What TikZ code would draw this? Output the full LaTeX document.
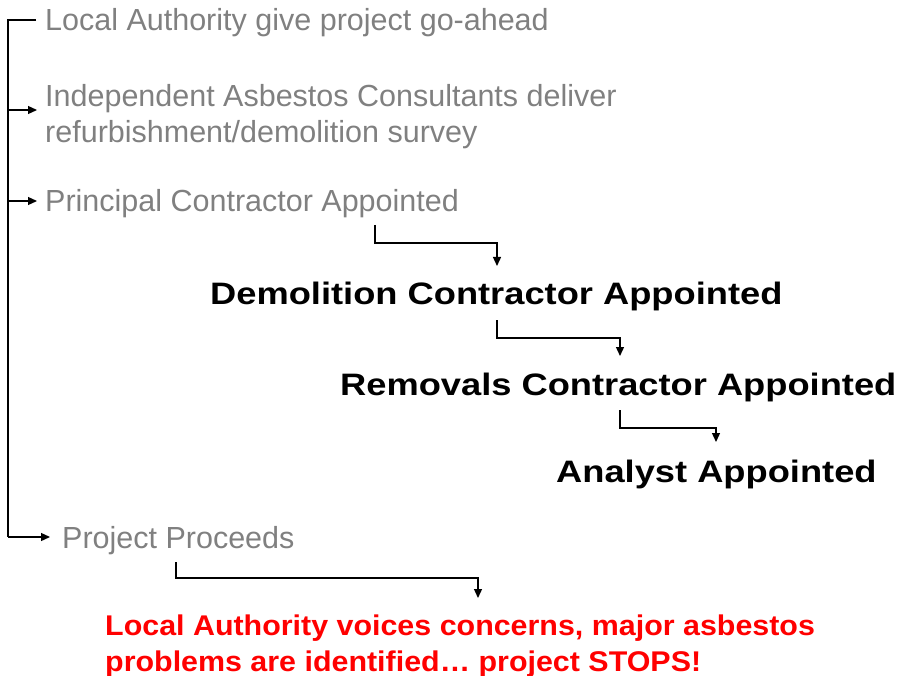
\documentclass[tikz,border=0pt]{standalone}
\usepackage{fontspec}
\setmainfont{Liberation Sans}
\newfontfamily\stepfont[FakeStretch=1.17]{Liberation Sans}
\newfontfamily\stopfont[FakeStretch=1.067]{Liberation Sans}
\usetikzlibrary{arrows.meta}
\definecolor{stepgray}{RGB}{128,128,128}
\tikzset{
  grey text/.style={text=stepgray, inner sep=0pt, anchor=base west,
    font=\fontsize{30.5}{36.5}\selectfont, align=left},
  bold text/.style={text=black, inner sep=0pt, anchor=base west,
    font=\stepfont\fontsize{31}{36.5}\selectfont\bfseries},
  red text/.style={text=red, inner sep=0pt, anchor=base west,
    font=\stopfont\fontsize{28.5}{36}\selectfont\bfseries, align=left},
  link/.style={line width=1.3pt, -{Triangle[length=9pt,width=8pt]}},
  plain link/.style={line width=1.3pt},
}
\begin{document}
\begin{tikzpicture}[x=1pt,y=-1pt]
    \useasboundingbox (0,0) rectangle (902,676);

    % the steps
    \node[grey text] (goahead) at (45,31) {Local Authority give project go-ahead};
    \node[grey text] (survey) at (45,143) {Independent Asbestos Consultants deliver\\refurbishment/demolition survey};
    \node[grey text] (principal) at (45,212) {Principal Contractor Appointed};
    \node[bold text] (demolition) at (210,305) {Demolition Contractor Appointed};
    \node[bold text] (removals) at (340,395) {Removals Contractor Appointed};
    \node[bold text] (analyst) at (556,482) {Analyst Appointed};
    \node[grey text] (proceeds) at (62,548) {Project Proceeds};
    \node[red text] (stops) at (105,671) {Local Authority voices concerns, major asbestos\\problems are identified\ldots\ project STOPS!};

    % left bracket
    \coordinate (top) at (8,20);
    \coordinate (topend) at (36,20);
    \coordinate (bottom) at (8,537);
    \coordinate (bottomend) at (50,537);
    \coordinate (surveyend) at (37,110);
    \coordinate (principalend) at (37,201);
    \draw[plain link] (topend) -- (top) -- (bottom);
    \draw[link] (bottom) -- (bottomend);
    \draw[link] (top |- surveyend) -- (surveyend);
    \draw[link] (top |- principalend) -- (principalend);

    % elbows
    \coordinate (p1) at (375,225);
    \coordinate (p2) at (497,266);
    \draw[link] (p1) -- ++(0,18) -| (p2);
    \coordinate (d1) at (497,320);
    \coordinate (d2) at (620,356);
    \draw[link] (d1) -- ++(0,18) -| (d2);
    \coordinate (r1) at (620,410);
    \coordinate (r2) at (716,442);
    \draw[link] (r1) -- ++(0,18) -| (r2);
    \coordinate (q1) at (176,562);
    \coordinate (q2) at (478,598);
    \draw[link] (q1) -- ++(0,16) -| (q2);
\end{tikzpicture}
\end{document}
